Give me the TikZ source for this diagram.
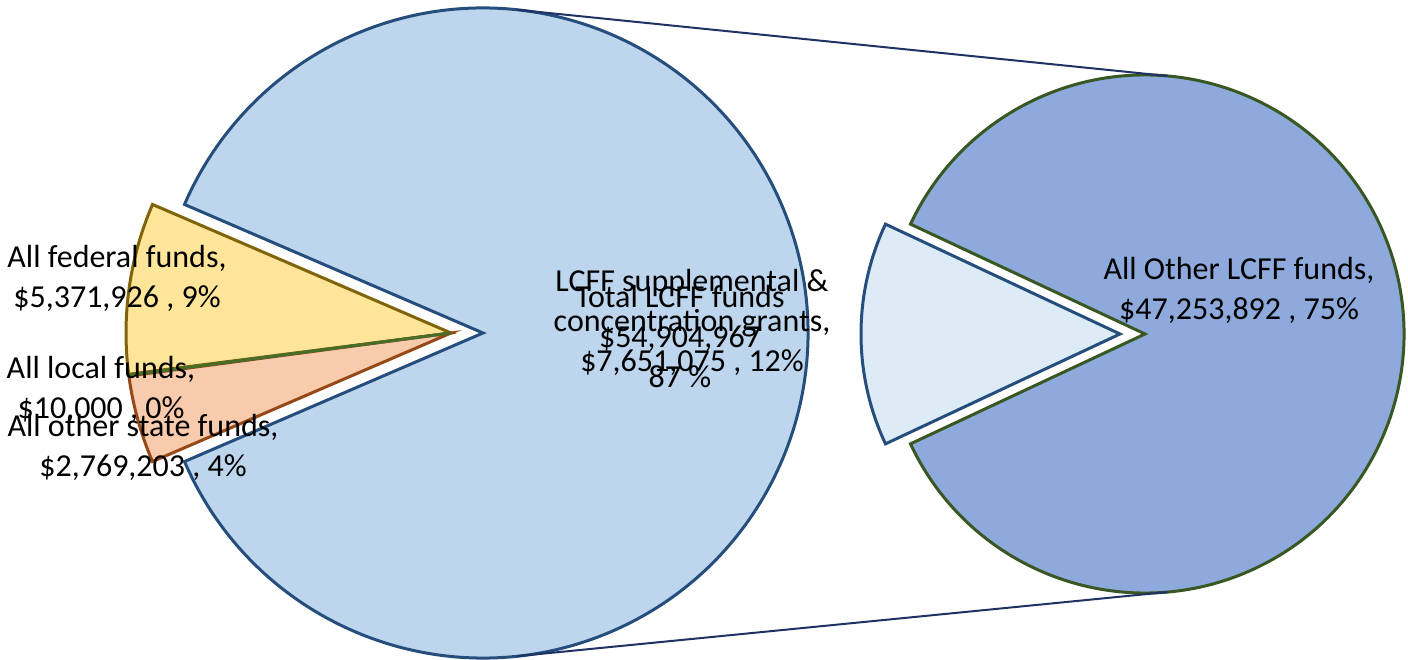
\documentclass[tikz,border=0pt]{standalone}
\usepackage{fontspec}
\setmainfont{Carlito}
\usetikzlibrary{positioning}

\definecolor{lcfffill}{RGB}{189,214,238}
\definecolor{lcffedge}{RGB}{37,78,124}
\definecolor{fedfill}{RGB}{254,229,153}
\definecolor{fededge}{RGB}{128,100,10}
\definecolor{statefill}{RGB}{248,203,173}
\definecolor{stateedge}{RGB}{150,72,22}
\definecolor{localedge}{RGB}{70,110,40}
\definecolor{otherfill}{RGB}{142,169,219}
\definecolor{otheredge}{RGB}{56,87,35}
\definecolor{suppfill}{RGB}{221,235,247}
\definecolor{linkline}{RGB}{31,50,100}

\tikzset{
    slice/.style={line width=1.5pt,line join=miter},
    lbl/.style={align=center,inner sep=0pt,font=\fontsize{16}{20}\selectfont}
}

\begin{document}
\begin{tikzpicture}[x=0.5pt,y=0.5pt]
    \useasboundingbox (0,0) rectangle (1408,659);
    \coordinate (bigc) at (483,326);
    \coordinate (bigx) at (451,326);
    \coordinate (smallc) at (1145,325);
    \coordinate (smallx) at (1120,325);
    % 主饼图和分离出来的扇区
    \draw[slice,fill=lcfffill,draw=lcffedge] (bigc) -- ++(203.3:325)
        arc[start angle=203.3,end angle=516.7,radius=325] -- cycle;
    \draw[slice,fill=fedfill,draw=fededge] (bigx) -- ++(156.7:325)
        arc[start angle=156.7,end angle=187.3,radius=325] -- cycle;
    \draw[slice,fill=statefill,draw=stateedge] (bigx) -- ++(187.6:325)
        arc[start angle=187.6,end angle=203.3,radius=325] -- cycle;
    \draw[slice,draw=localedge] (bigx) -- ++(187.45:325);
    % 右边的饼图
    \draw[slice,fill=otherfill,draw=otheredge] (smallc) -- ++(205.1:259)
        arc[start angle=205.1,end angle=514.9,radius=259] -- cycle;
    \draw[slice,fill=suppfill,draw=lcffedge] (smallx) -- ++(154.9:259)
        arc[start angle=154.9,end angle=205.1,radius=259] -- cycle;
    \path (bigc) ++(84:325) coordinate (bigtop)
        (smallc) ++(85:259) coordinate (smalltop)
        (bigc) ++(-84:325) coordinate (bigbot)
        (smallc) ++(-85:259) coordinate (smallbot);
    \draw[linkline,line width=1pt] (bigtop) -- (smalltop);
    \draw[linkline,line width=1pt] (bigbot) -- (smallbot);
    \node[lbl] (fed) at (117,381) {All federal funds,\\ \$5,371,926 , 9\%};
    \node[lbl] (local) at (101,270) {All local funds,\\ \$10,000 , 0\%};
    \node[lbl] (state) at (143,212) {All other state funds,\\ \$2,769,203 , 4\%};
    \node[lbl] (total) at (680,322) {Total LCFF funds\\ \$54,904,967\\ 87 \%};
    \node[lbl] (supp) at (692,337) {LCFF supplemental \&\\ concentration grants,\\ \$7,651,075 , 12\%};
    \node[lbl] (other) at (1239,369) {All Other LCFF funds,\\ \$47,253,892 , 75\%};
\end{tikzpicture}
\end{document}
